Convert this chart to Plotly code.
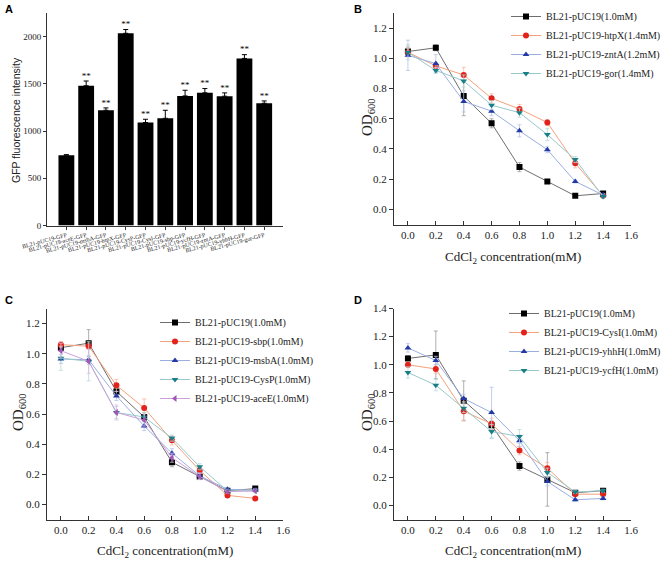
import plotly.graph_objects as go

# ---------------- Panel A data ----------------
a_labels = ["BL21-pUC19-GFP", "BL21-pUC19-aceE-GFP", "BL21-pUC19-msbA-GFP", "BL21-pUC19-htpX-GFP",
            "BL21-pUC19-CysP-GFP", "BL21-pUC19-CysI-GFP", "BL21-pUC19-sbp-GFP", "BL21-pUC19-ycfH-GFP",
            "BL21-pUC19-zntA-GFP", "BL21-pUC19-yhhH-GFP", "BL21-pUC19-gor-GFP"]
a_values = [745, 1480, 1220, 2035, 1090, 1135, 1372, 1405, 1369, 1769, 1294]
a_errors = [5, 50, 25, 40, 35, 85, 60, 45, 35, 40, 25]
a_sig = ["", "**", "**", "**", "**", "**", "**", "**", "**", "**", "**"]

# ---------------- Shared x ----------------
conc = [0.0, 0.2, 0.4, 0.6, 0.8, 1.0, 1.2, 1.4]

# ---------------- Panel B data ----------------
b_names = ["BL21-pUC19(1.0mM)", "BL21-pUC19-htpX(1.4mM)", "BL21-pUC19-zntA(1.2mM)", "BL21-pUC19-gor(1.4mM)"]
b_ctrl = [1.045, 1.07, 0.75, 0.57, 0.28, 0.185, 0.09, 0.105]
b_htpX = [1.04, 0.95, 0.89, 0.735, 0.665, 0.575, 0.305, 0.09]
b_zntA = [1.02, 0.965, 0.715, 0.65, 0.52, 0.395, 0.185, 0.095]
b_gor = [1.04, 0.92, 0.85, 0.69, 0.64, 0.495, 0.33, 0.085]
b_ctrl_err = [0.03, 0.02, 0.13, 0.03, 0.03, 0.01, 0.01, 0.01]
b_htpX_err = [0.03, 0.02, 0.05, 0.03, 0.03, 0.02, 0.03, 0.01]
b_zntA_err = [0.10, 0.06, 0.07, 0.03, 0.04, 0.02, 0.01, 0.01]
b_gor_err = [0.05, 0.02, 0.04, 0.03, 0.03, 0.04, 0.02, 0.01]

# ---------------- Panel C data ----------------
c_names = ["BL21-pUC19(1.0mM)", "BL21-pUC19-sbp(1.0mM)", "BL21-pUC19-msbA(1.0mM)",
           "BL21-pUC19-CysP(1.0mM)", "BL21-pUC19-aceE(1.0mM)"]
c_ctrl = [1.04, 1.07, 0.75, 0.58, 0.28, 0.185, 0.09, 0.105]
c_sbp = [1.06, 1.05, 0.79, 0.64, 0.425, 0.225, 0.06, 0.04]
c_msbA = [0.965, 0.96, 0.72, 0.52, 0.34, 0.19, 0.10, 0.095]
c_cysP = [0.97, 0.95, 0.61, 0.58, 0.44, 0.25, 0.09, 0.09]
c_aceE = [1.02, 0.95, 0.61, 0.56, 0.31, 0.185, 0.085, 0.09]
c_ctrl_err = [0.02, 0.09, 0.03, 0.03, 0.03, 0.02, 0.01, 0.01]
c_sbp_err = [0.02, 0.02, 0.04, 0.06, 0.03, 0.02, 0.01, 0.01]
c_msbA_err = [0.03, 0.03, 0.03, 0.03, 0.03, 0.02, 0.01, 0.01]
c_cysP_err = [0.08, 0.13, 0.04, 0.03, 0.02, 0.02, 0.01, 0.01]
c_aceE_err = [0.05, 0.08, 0.05, 0.04, 0.03, 0.02, 0.01, 0.01]

# ---------------- Panel D data ----------------
d_names = ["BL21-pUC19(1.0mM)", "BL21-pUC19-CysI(1.0mM)", "BL21-pUC19-yhhH(1.0mM)", "BL21-pUC19-ycfH(1.0mM)"]
d_ctrl = [1.045, 1.07, 0.745, 0.57, 0.28, 0.185, 0.09, 0.105]
d_cysI = [1.0, 0.97, 0.67, 0.58, 0.39, 0.265, 0.08, 0.08]
d_yhhH = [1.12, 1.03, 0.76, 0.66, 0.46, 0.17, 0.04, 0.05]
d_ycfH = [0.945, 0.855, 0.69, 0.525, 0.49, 0.235, 0.095, 0.105]
d_ctrl_err = [0.02, 0.17, 0.14, 0.03, 0.03, 0.19, 0.01, 0.01]
d_cysI_err = [0.02, 0.03, 0.07, 0.04, 0.03, 0.04, 0.01, 0.01]
d_yhhH_err = [0.03, 0.03, 0.03, 0.18, 0.04, 0.03, 0.01, 0.01]
d_ycfH_err = [0.04, 0.04, 0.03, 0.05, 0.05, 0.03, 0.01, 0.01]

# styles: (marker color, line color, error color, symbol)
STY = {
    "black": ("#000000", "#6e6e6e", "#9a9a9a", "square"),
    "red": ("#e3221c", "#f3a27c", "#f6b9a0", "circle"),
    "blue": ("#2239a6", "#9aaee0", "#b5c3ea", "triangle-up"),
    "teal": ("#177f85", "#98c8cc", "#b7d9dc", "triangle-down"),
    "purple": ("#a157b5", "#caa2d8", "#d9bde3", "triangle-left"),
}

SERIF = "Liberation Serif, Times New Roman, serif"
SANS = "Liberation Sans, Arial, sans-serif"
TXT = "#222222"

fig = go.Figure()

# ---- Panel A ----
fig.add_trace(go.Bar(
    x=list(range(len(a_values))), y=a_values,
    marker=dict(color="#000000", line=dict(width=0)), width=0.8,
    error_y=dict(type="data", array=a_errors, arrayminus=[0] * len(a_errors), symmetric=False,
                 color="#000000", thickness=1, width=2.5),
    showlegend=False, xaxis="x", yaxis="y"))
fig.add_trace(go.Scatter(
    x=list(range(len(a_values))), y=[v + e for v, e in zip(a_values, a_errors)],
    mode="text", text=a_sig, textposition="top center",
    textfont=dict(family=SERIF, size=9, color="#000000"),
    showlegend=False, xaxis="x", yaxis="y", hoverinfo="skip"))


def add_series(xs, ys, errs, name, style, xa, ya, legend):
    mc, lc, ec, sym = STY[style]
    fig.add_trace(go.Scatter(
        x=xs, y=ys, name=name, mode="lines+markers",
        line=dict(color=lc, width=1),
        marker=dict(color=mc, symbol=sym, size=6, line=dict(width=0)),
        error_y=dict(type="data", array=errs, color=ec, thickness=0.8, width=2),
        xaxis=xa, yaxis=ya, legend=legend))


# ---- Panel B ----
add_series(conc, b_ctrl, b_ctrl_err, b_names[0], "black", "x2", "y2", "legend")
add_series(conc, b_htpX, b_htpX_err, b_names[1], "red", "x2", "y2", "legend")
add_series(conc, b_zntA, b_zntA_err, b_names[2], "blue", "x2", "y2", "legend")
add_series(conc, b_gor, b_gor_err, b_names[3], "teal", "x2", "y2", "legend")

# ---- Panel C ----
add_series(conc, c_ctrl, c_ctrl_err, c_names[0], "black", "x3", "y3", "legend2")
add_series(conc, c_sbp, c_sbp_err, c_names[1], "red", "x3", "y3", "legend2")
add_series(conc, c_msbA, c_msbA_err, c_names[2], "blue", "x3", "y3", "legend2")
add_series(conc, c_cysP, c_cysP_err, c_names[3], "teal", "x3", "y3", "legend2")
add_series(conc, c_aceE, c_aceE_err, c_names[4], "purple", "x3", "y3", "legend2")

# ---- Panel D ----
add_series(conc, d_ctrl, d_ctrl_err, d_names[0], "black", "x4", "y4", "legend3")
add_series(conc, d_cysI, d_cysI_err, d_names[1], "red", "x4", "y4", "legend3")
add_series(conc, d_yhhH, d_yhhH_err, d_names[2], "blue", "x4", "y4", "legend3")
add_series(conc, d_ycfH, d_ycfH_err, d_names[3], "teal", "x4", "y4", "legend3")

W, H = 666, 563


def px(v):
    return v / W


def py(v):
    return 1 - v / H


AX = dict(showline=True, linecolor="#333333", linewidth=1, showgrid=False, zeroline=False,
          ticks="outside", tickcolor="#333333", ticklen=3, mirror=False, automargin=False,
          tickfont=dict(family=SERIF, size=11, color=TXT))

xB = dict(AX, range=[-0.1, 1.6], tickvals=[0, 0.2, 0.4, 0.6, 0.8, 1.0, 1.2, 1.4, 1.6],
          tickformat=".1f", ticks="inside", ticklen=4)
yOD = dict(AX, tickformat=".1f", dtick=0.2, tick0=0, ticklen=4)


def ann(text, x, y, size, family=SERIF, angle=0, bold=False, xanchor="center", yanchor="middle"):
    return dict(text=("<b>%s</b>" % text) if bold else text, x=px(x), y=py(y), xref="paper", yref="paper",
                xanchor=xanchor, yanchor=yanchor, showarrow=False, textangle=angle,
                font=dict(family=family, size=size, color=TXT if not bold else "#000000"))


LEG = dict(yanchor="top", bgcolor="rgba(0,0,0,0)",
           font=dict(family=SERIF, size=10, color=TXT), tracegroupgap=0, borderwidth=0)

fig.update_layout(
    width=W, height=H, margin=dict(l=0, r=0, t=0, b=0, autoexpand=False),
    paper_bgcolor="white", plot_bgcolor="white", showlegend=True,
    xaxis=dict(AX, domain=[px(47), px(283)], range=[-0.98, 10.95],
               tickvals=list(range(len(a_labels))), ticktext=a_labels, tickangle=-15,
               tickfont=dict(family=SERIF, size=6, color=TXT), ticklen=3, anchor="y"),
    yaxis=dict(AX, domain=[py(225.5), py(13)], range=[0, 2250], tickvals=[0, 500, 1000, 1500, 2000],
               tickfont=dict(family=SERIF, size=9, color=TXT), ticklen=3, anchor="x"),
    xaxis2=dict(xB, domain=[px(394), px(631)], anchor="y2"),
    yaxis2=dict(yOD, domain=[py(224.5), py(13)], range=[-0.1, 1.3], anchor="x2"),
    xaxis3=dict(xB, domain=[px(47), px(283)], anchor="y3"),
    yaxis3=dict(yOD, domain=[py(519.5), py(308.5)], range=[-0.1, 1.3], anchor="x3"),
    xaxis4=dict(xB, domain=[px(394), px(631)], anchor="y4"),
    yaxis4=dict(yOD, domain=[py(519.5), py(308.5)], range=[-0.1, 1.4], anchor="x4"),
    legend=dict(LEG, x=1, xanchor="right", y=py(2)),
    legend2=dict(LEG, x=px(155), xanchor="left", y=py(308)),
    legend3=dict(LEG, x=1, xanchor="right", y=py(299)),
    annotations=[
        ann("A", 3, 1, 11, SANS, bold=True, xanchor="left", yanchor="top"),
        ann("B", 352, 1, 11, SANS, bold=True, xanchor="left", yanchor="top"),
        ann("C", 3, 292, 11, SANS, bold=True, xanchor="left", yanchor="top"),
        ann("D", 352, 292, 11, SANS, bold=True, xanchor="left", yanchor="top"),
        ann("GFP fluorescence intensity", 16, 120, 10.5, SANS, angle=-90),
        ann("CdCl<sub>2</sub> concentration(mM)", 513, 257, 13),
        ann("OD<sub>600</sub>", 368, 118, 15, angle=-90),
        ann("CdCl<sub>2</sub> concentration(mM)", 165, 551, 13),
        ann("OD<sub>600</sub>", 19, 413, 15, angle=-90),
        ann("CdCl<sub>2</sub> concentration(mM)", 513, 551, 13),
        ann("OD<sub>600</sub>", 368, 413, 15, angle=-90),
    ],
)

fig.write_html("out.html", config={"displayModeBar": False},
               post_script="document.body.style.margin='0';document.body.style.padding='0';")
